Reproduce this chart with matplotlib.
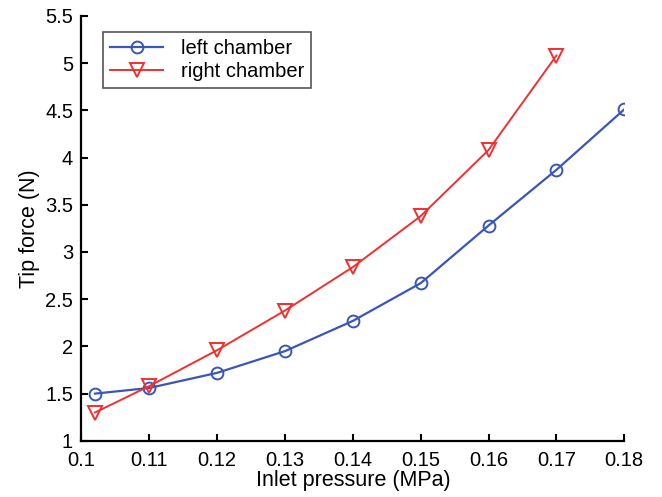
import matplotlib.pyplot as plt

plt.rcParams['font.family'] = ['Liberation Sans', 'DejaVu Sans']

# data
pressure_left = [0.102, 0.11, 0.12, 0.13, 0.14, 0.15, 0.16, 0.17, 0.18]
force_left = [1.50, 1.56, 1.72, 1.95, 2.27, 2.67, 3.28, 3.87, 4.51]
pressure_right = [0.102, 0.11, 0.12, 0.13, 0.14, 0.15, 0.16, 0.17]
force_right = [1.30, 1.58, 1.96, 2.38, 2.84, 3.38, 4.08, 5.08]

xticks = [0.1, 0.11, 0.12, 0.13, 0.14, 0.15, 0.16, 0.17, 0.18]
xticklabels = ['0.1', '0.11', '0.12', '0.13', '0.14', '0.15', '0.16', '0.17', '0.18']
yticks = [1, 1.5, 2, 2.5, 3, 3.5, 4, 4.5, 5, 5.5]
yticklabels = ['1', '1.5', '2', '2.5', '3', '3.5', '4', '4.5', '5', '5.5']

fig = plt.figure(figsize=(6.62, 4.97), dpi=100)
ax = fig.add_axes([0.123, 0.113, 0.820, 0.855])

ax.plot(pressure_left, force_left, color='#3a56b8', lw=1.6, marker='o',
        markersize=8.5, markerfacecolor='none', markeredgewidth=1.4,
        label='left chamber')
ax.plot(pressure_right, force_right, color='#f03030', lw=1.4, marker='v',
        markersize=9.5, markerfacecolor='none', markeredgewidth=1.4,
        label='right chamber')

ax.set_xlim(0.1, 0.18)
ax.set_ylim(1, 5.5)
ax.set_xticks(xticks)
ax.set_xticklabels(xticklabels)
ax.set_yticks(yticks)
ax.set_yticklabels(yticklabels)
ax.tick_params(direction='in', labelsize=14.5, width=1.5, length=5)
ax.tick_params(axis='x', pad=7)
ax.tick_params(axis='y', pad=6)
ax.spines['top'].set_visible(False)
ax.spines['right'].set_visible(False)
ax.spines['left'].set_linewidth(1.6)
ax.spines['bottom'].set_linewidth(1.6)

ax.set_xlabel('Inlet pressure (MPa)', fontsize=15.5, labelpad=0)
ax.set_ylabel('Tip force (N)', fontsize=15.5, labelpad=4)

leg = ax.legend(loc='upper left', bbox_to_anchor=(0.022, 0.985), fontsize=14.5,
                fancybox=False, edgecolor='#555555', framealpha=1,
                handlelength=2.6, borderpad=0.35, labelspacing=0.2,
                handletextpad=0.9)
leg.get_frame().set_linewidth(1.2)

fig.savefig('out.png', dpi=100)
